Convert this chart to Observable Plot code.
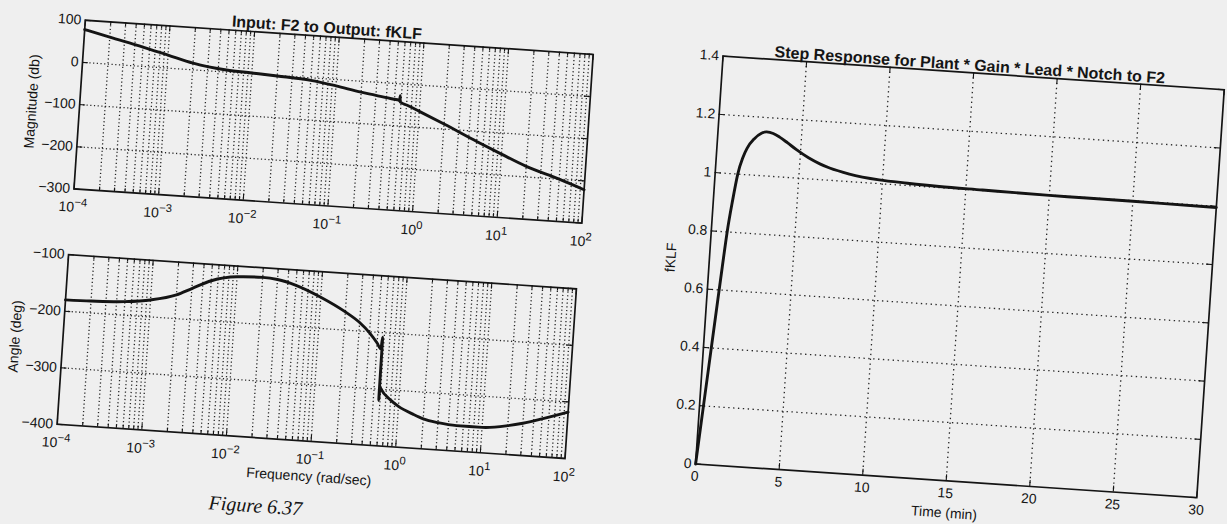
<!DOCTYPE html>
<html>
<head>
<meta charset="utf-8">
<script src="https://cdn.jsdelivr.net/npm/d3@7"></script>
<script src="https://cdn.jsdelivr.net/npm/@observablehq/plot@0.6"></script>
<style>
  html, body { margin:0; padding:0; width:1227px; height:524px; overflow:hidden; background:#efefef; }
  #page { position:absolute; left:0; top:0; width:1227px; height:524px; transform:rotate(3.85deg); transform-origin:0 0;
          font-family:"Liberation Sans", Arial, Helvetica, sans-serif; color:#151515; }
  .panel { position:absolute; }
  .panel svg { display:block; overflow:visible; }
  .ttl { position:absolute; font-weight:bold; font-size:16px; white-space:nowrap; transform:translate(-50%,-50%); line-height:1; }
  .cap { position:absolute; font-family:"Liberation Serif","DejaVu Serif",serif; font-style:italic; font-size:20px; white-space:nowrap; line-height:1; }
</style>
</head>
<body>
<div id="page">
  <div class="panel" id="mag"></div>
  <div class="panel" id="phase"></div>
  <div class="panel" id="step"></div>
  <div class="ttl" id="t1"></div>
  <div class="ttl" id="t2"></div>
  <div class="cap" id="cap"></div>
</div>
<script>
// ---------- texts ----------
const magTitle = "Input: F2 to Output: fKLF";
const stepTitle = "Step Response for Plant * Gain * Lead * Notch to F2";
const captionText = "Figure 6.37";

// ---------- tick values ----------
const freqDecades = [1e-4, 1e-3, 1e-2, 1e-1, 1, 10, 100];
const magTicks = [-300, -200, -100, 0, 100];
const phaseTicks = [-400, -300, -200, -100];
const timeTicks = [0, 5, 10, 15, 20, 25, 30];
const fklfTicks = [0, 0.2, 0.4, 0.6, 0.8, 1, 1.2, 1.4];

// ---------- Bode magnitude ----------
const magFreq = [1e-4, 2e-4, 5e-4, 1e-3, 2e-3, 5e-3, 1e-2, 2e-2, 5e-2, 0.1, 0.2, 0.3, 0.4, 0.5, 0.56,
                 0.575, 0.58, 0.585, 0.6, 0.7, 1, 2, 5, 10, 20, 50, 100];
const magDb = [78, 64, 46, 31, 16, 5, 2, -1, -6, -15, -26, -31, -35, -37.5, -39,
               -40, -28, -42, -44, -49, -62, -88, -124, -150, -175, -200, -221];

// ---------- Bode phase ----------
const phaseFreq = [1e-4, 2e-4, 5e-4, 1e-3, 2e-3, 3e-3, 5e-3, 1e-2, 2e-2, 3e-2, 5e-2, 0.1, 0.2, 0.3, 0.4, 0.5, 0.56,
                   0.575, 0.58, 0.585, 0.6, 0.8, 1, 1.5, 2, 3, 5, 10, 20, 30, 50, 100];
const phaseDeg = [-180, -179, -176, -170, -158, -145, -129, -119, -117, -119, -127, -145, -168, -185, -202, -219, -229,
                  -208, -320, -296, -299, -318, -328, -340, -347, -352, -355, -355, -349, -343, -333, -318];

// ---------- step response ----------
const timeMin = [0, 0.2, 0.4, 0.6, 0.8, 0.95, 1.15, 1.35, 1.6, 1.8, 2.2, 2.6, 2.9, 3.3, 3.7, 4.2, 4.75, 5.5,
                 6.2, 6.8, 8, 9.8, 11.5, 13.4, 16, 20, 25, 30];
const fklfValue = [0, 0.17, 0.34, 0.51, 0.68, 0.8, 0.91, 1.0, 1.06, 1.09, 1.125, 1.145, 1.151, 1.147, 1.136, 1.118, 1.097, 1.072,
                   1.054, 1.042, 1.026, 1.013, 1.008, 1.004, 1.002, 0.999, 0.998, 0.996];

// ---------- styling helpers ----------
const FONT = '"Liberation Sans", Arial, Helvetica, sans-serif';
const INK = "#141414";
const GRID = "#262626";
const minorFreq = freqDecades.slice(0, -1).flatMap(d => [2, 3, 4, 5, 6, 7, 8, 9].map(k => d * k));
const signed = d => (d < 0 ? "\u2212" + Math.abs(d) : String(d));
const logFmt = d => { const e = Math.round(Math.log10(d)); return "10^" + signed(e); };
const decFmt = d => String(+d.toFixed(1));

function decorations(innerW, innerH, {gridX, gridY, majorX, minorX = [], majorY, dash}) {
  const g = {stroke: GRID, strokeWidth: 1.3, strokeDasharray: dash};
  const t = {stroke: INK, strokeWidth: 1.1};
  return [
    Plot.ruleX(gridX, g),
    Plot.ruleY(gridY, g),
    Plot.ruleX(majorX, {...t, insetTop: innerH - 6}),
    Plot.ruleX(majorX, {...t, insetBottom: innerH - 6}),
    Plot.ruleX(minorX, {...t, insetTop: innerH - 3.5}),
    Plot.ruleX(minorX, {...t, insetBottom: innerH - 3.5}),
    Plot.ruleY(majorY, {...t, insetRight: innerW - 6}),
    Plot.ruleY(majorY, {...t, insetLeft: innerW - 6}),
    Plot.frame({stroke: INK, strokeWidth: 1.7})
  ];
}

function superscriptTicks(svg) {
  d3.select(svg).selectAll('g[aria-label="x-axis tick label"] text').each(function () {
    const s = this.textContent;
    const i = s.indexOf("^");
    if (i < 0) return;
    const sel = d3.select(this);
    sel.text(s.slice(0, i));
    sel.append("tspan").attr("dy", "-0.55em").attr("font-size", "0.8em").text(s.slice(i + 1));
  });
}

function place(id, frame, m, svg) {
  const el = document.getElementById(id);
  el.style.left = (frame.u - m.left) + "px";
  el.style.top = (frame.v - m.top) + "px";
  el.appendChild(svg);
}

const style = {background: "transparent", fontFamily: FONT, fontSize: "14px", color: INK, overflow: "visible"};

// ---------- magnitude panel ----------
{
  const frame = {u: 86, v: 14.2, w: 509, h: 169};
  const m = {left: 70, right: 15, top: 20, bottom: 40};
  const data = magFreq.map((f, i) => ({f, db: magDb[i]}));
  const svg = Plot.plot({
    width: frame.w + m.left + m.right, height: frame.h + m.top + m.bottom,
    marginLeft: m.left, marginRight: m.right, marginTop: m.top, marginBottom: m.bottom,
    style,
    x: {type: "log", domain: [1e-4, 1e2], ticks: freqDecades, tickFormat: logFmt, tickSize: 0, tickPadding: 13, label: null},
    y: {domain: [-300, 100], ticks: magTicks, tickFormat: signed, tickSize: 0, tickPadding: 4,
        label: "Magnitude (db)", labelAnchor: "center", labelOffset: 53, labelArrow: "none"},
    marks: [
      ...decorations(frame.w, frame.h, {
        gridX: [...minorFreq, ...freqDecades.slice(1, -1)], gridY: magTicks.slice(1, -1),
        majorX: freqDecades, minorX: minorFreq, majorY: magTicks, dash: "1.2,2.5"}),
      Plot.line(data, {x: "f", y: "db", stroke: INK, strokeWidth: 2.9, curve: "monotone-x"})
    ]
  });
  superscriptTicks(svg);
  place("mag", frame, m, svg);
  const t = document.getElementById("t1");
  t.textContent = magTitle;
  t.style.left = "328px"; t.style.top = "5.5px";
}

// ---------- phase panel ----------
{
  const frame = {u: 85, v: 249, w: 509, h: 170};
  const m = {left: 70, right: 15, top: 20, bottom: 55};
  const data = phaseFreq.map((f, i) => ({f, deg: phaseDeg[i]}));
  const svg = Plot.plot({
    width: frame.w + m.left + m.right, height: frame.h + m.top + m.bottom,
    marginLeft: m.left, marginRight: m.right, marginTop: m.top, marginBottom: m.bottom,
    style,
    x: {type: "log", domain: [1e-4, 1e2], ticks: freqDecades, tickFormat: logFmt, tickSize: 0, tickPadding: 13,
        label: "Frequency (rad/sec)", labelAnchor: "center", labelOffset: 40, labelArrow: "none"},
    y: {domain: [-400, -100], ticks: phaseTicks, tickFormat: signed, tickSize: 0, tickPadding: 4,
        label: "Angle (deg)", labelAnchor: "center", labelOffset: 53, labelArrow: "none"},
    marks: [
      ...decorations(frame.w, frame.h, {
        gridX: [...minorFreq, ...freqDecades.slice(1, -1)], gridY: phaseTicks.slice(1, -1),
        majorX: freqDecades, minorX: minorFreq, majorY: phaseTicks, dash: "1.2,2.5"}),
      Plot.line(data, {x: "f", y: "deg", stroke: INK, strokeWidth: 2.9, curve: "monotone-x"})
    ]
  });
  superscriptTicks(svg);
  place("phase", frame, m, svg);
}

// ---------- step response panel ----------
{
  const frame = {u: 725, v: 7.3, w: 505, h: 411};
  const m = {left: 60, right: 0, top: 20, bottom: 50};
  const data = timeMin.map((t, i) => ({t, y: fklfValue[i]}));
  const svg = Plot.plot({
    width: frame.w + m.left + m.right, height: frame.h + m.top + m.bottom,
    marginLeft: m.left, marginRight: m.right, marginTop: m.top, marginBottom: m.bottom,
    style,
    x: {domain: [0, 30], ticks: timeTicks, tickSize: 0, tickPadding: 7,
        label: "Time (min)", labelAnchor: "center", labelOffset: 37, labelArrow: "none"},
    y: {domain: [0, 1.4], ticks: fklfTicks, tickFormat: decFmt, tickSize: 0, tickPadding: 4,
        label: "fKLF", labelAnchor: "center", labelOffset: 44, labelArrow: "none"},
    marks: [
      ...decorations(frame.w, frame.h, {
        gridX: timeTicks.slice(1, -1), gridY: fklfTicks.slice(1, -1),
        majorX: timeTicks, majorY: fklfTicks, dash: "1.4,3.5"}),
      Plot.line(data, {x: "t", y: "y", stroke: INK, strokeWidth: 2.9, curve: "monotone-x"})
    ]
  });
  place("step", frame, m, svg);
  const t = document.getElementById("t2");
  t.textContent = stepTitle;
  t.style.left = "972px"; t.style.top = "-0.3px";
}

// ---------- caption ----------
{
  const c = document.getElementById("cap");
  c.textContent = captionText;
  c.style.left = "242px"; c.style.top = "477px";
}
</script>
</body>
</html>
